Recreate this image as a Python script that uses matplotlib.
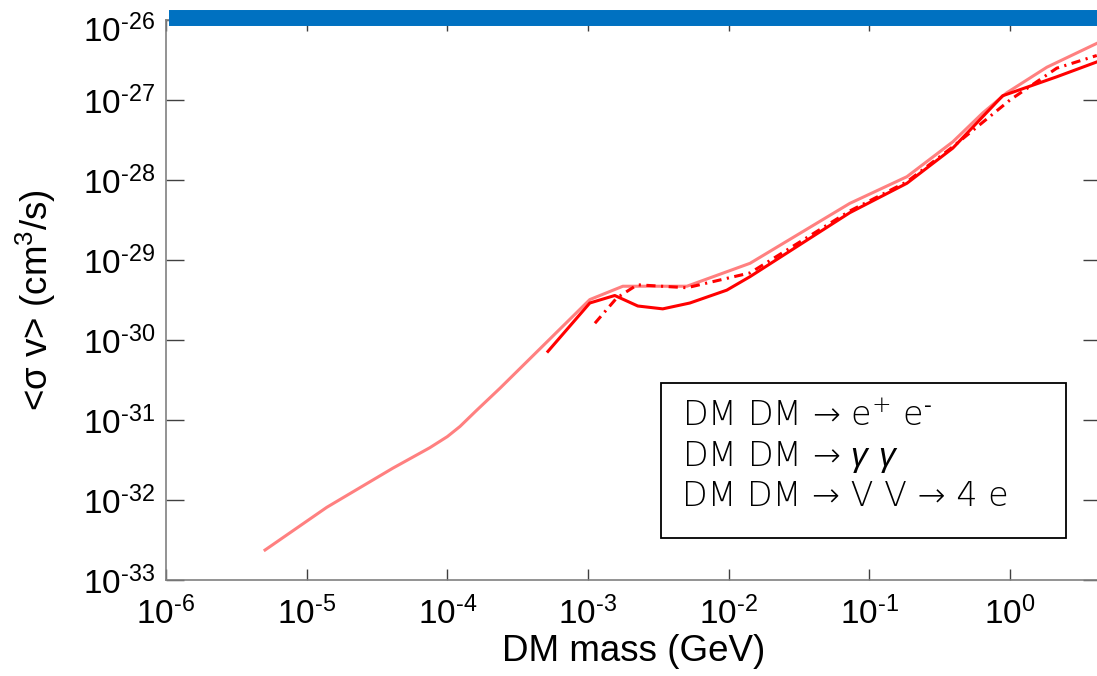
import matplotlib
matplotlib.use("Agg")
import numpy as np
import matplotlib.pyplot as plt
import matplotlib.transforms as mtransforms
from matplotlib.patches import Rectangle
from matplotlib.ticker import FixedLocator, NullLocator, FuncFormatter

plt.rcParams['font.family'] = ['Liberation Sans', 'DejaVu Sans']
plt.rcParams['mathtext.fontset'] = 'custom'
plt.rcParams['mathtext.rm'] = 'Liberation Sans'
plt.rcParams['mathtext.it'] = 'Liberation Sans:italic'
plt.rcParams['mathtext.default'] = 'regular'

# DM DM -> e+ e-  (light red)
mass_ee = [5.06e-6, 1.39e-5, 4.1e-5, 7.5e-5, 1.0e-4, 1.23e-4, 1.6e-4, 2.37e-4,
           1.03e-3, 1.77e-3, 5.05e-3, 1.42e-2, 7.26e-2, 0.185, 0.392, 0.641,
           0.948, 1.83, 4.14]
sv_ee = [2.37e-33, 8.1e-33, 2.5e-32, 4.5e-32, 6.2e-32, 8.3e-32, 1.3e-31, 2.5e-31,
         3.2e-30, 4.7e-30, 4.7e-30, 9.1e-30, 5.1e-29, 1.1e-28, 3.0e-28, 6.9e-28,
         1.23e-27, 2.57e-27, 5.1e-27]

# DM DM -> gamma gamma  (red solid)
mass_gg = [5.19e-4, 1.03e-3, 1.55e-3, 2.26e-3, 3.4e-3, 5.3e-3, 9.7e-3, 1.42e-2,
           7.26e-2, 0.185, 0.392, 0.887, 2.15, 4.14]
sv_gg = [7.2e-31, 2.9e-30, 3.6e-30, 2.66e-30, 2.45e-30, 2.9e-30, 4.2e-30, 6.2e-30,
         3.9e-29, 9.1e-29, 2.5e-28, 1.13e-27, 1.95e-27, 2.99e-27]

# DM DM -> V V -> 4 e  (red dash-dot)
mass_4e = [1.12e-3, 1.6e-3, 2.24e-3, 5.05e-3, 1.42e-2, 7.26e-2, 0.185, 0.392,
           1.0, 2.15, 4.14]
sv_4e = [1.62e-30, 3.35e-30, 4.9e-30, 4.5e-30, 6.9e-30, 4.1e-29, 9.5e-29, 2.6e-28,
         1.0e-27, 2.5e-27, 3.6e-27]

band_mass = [1.05e-6, 10.0]
band_sv = [1.06e-26, 1.06e-26]

x_exps = [-6, -5, -4, -3, -2, -1, 0]
y_exps = [-33, -32, -31, -30, -29, -28, -27, -26]

legend_lines = ["DM DM → e$^{+}$ e$^{\\text{-}}$",
                "DM DM → $\\it{\\gamma}$ $\\it{\\gamma}$",
                "DM DM → V V → 4 e"]


def pow_label(v, pos):
    e = int(round(np.log10(v)))
    if e < 0:
        return '$\\mathdefault{10^{\\text{-}%d}}$' % (-e)
    return '$\\mathdefault{10^{%d}}$' % e


fig = plt.figure(figsize=(10.97, 6.76), dpi=100)
ax = fig.add_axes([166/1097, 96/676, (1101-166)/1097, 560/676])

ax.plot(mass_ee, sv_ee, color='#ff8080', lw=2.2, solid_joinstyle='round')
ax.plot(mass_gg, sv_gg, color='#ff0000', lw=2.2)
ax.plot(mass_4e, sv_4e, color='#ff0000', lw=2.2, linestyle=(0, (3, 1.8, 0.7, 1.8)))
ax.plot(band_mass, band_sv, color='#0071c1', lw=11.5, solid_capstyle='butt',
        clip_on=False, zorder=5)

ax.set_xscale('log')
ax.set_yscale('log')
ax.set_xlim(1e-6, 10**0.647)
ax.set_ylim(1e-33, 1e-26)
ax.xaxis.set_major_locator(FixedLocator([10.0**e for e in x_exps]))
ax.yaxis.set_major_locator(FixedLocator([10.0**e for e in y_exps]))
ax.xaxis.set_minor_locator(NullLocator())
ax.yaxis.set_minor_locator(NullLocator())
ax.xaxis.set_major_formatter(FuncFormatter(pow_label))
ax.yaxis.set_major_formatter(FuncFormatter(pow_label))

ax.tick_params(axis='both', which='major', direction='in', top=True, right=True,
               labelsize=24, color='#404040', width=1.0)
ax.tick_params(axis='x', length=8, pad=12)
ax.tick_params(axis='y', length=13, pad=8)
for s in ax.spines.values():
    s.set_color('#808080')
    s.set_linewidth(1.2)

# top label sits a bit lower in the original
top_tick = ax.yaxis.get_major_ticks(len(y_exps))[-1]
shift = mtransforms.ScaledTranslation(0, -8/100, fig.dpi_scale_trans)
top_tick.label1.set_transform(top_tick.label1.get_transform() + shift)

ax.set_xlabel('DM mass (GeV)', fontsize=26.5, labelpad=2)
ax.set_ylabel('<σ v> (cm$^3$/s)', fontsize=26.5)
ax.yaxis.set_label_coords((58 - 166)/935, 0.5)

# legend box (text only, no line samples)
fig.patches.append(Rectangle((661/1097, 1 - 538/676), (1066-661)/1097, (538-383)/676,
                             transform=fig.transFigure, facecolor='white',
                             edgecolor='black', linewidth=1.3, zorder=10))
for i, line in enumerate(legend_lines):
    fig.text(682/1097, 1 - (426 + 40*i)/676, line,
             family=['DejaVu Sans', 'Liberation Sans'],
             fontsize=24, fontweight='light', va='baseline', ha='left', zorder=11)

fig.savefig('out.png', dpi=100)
